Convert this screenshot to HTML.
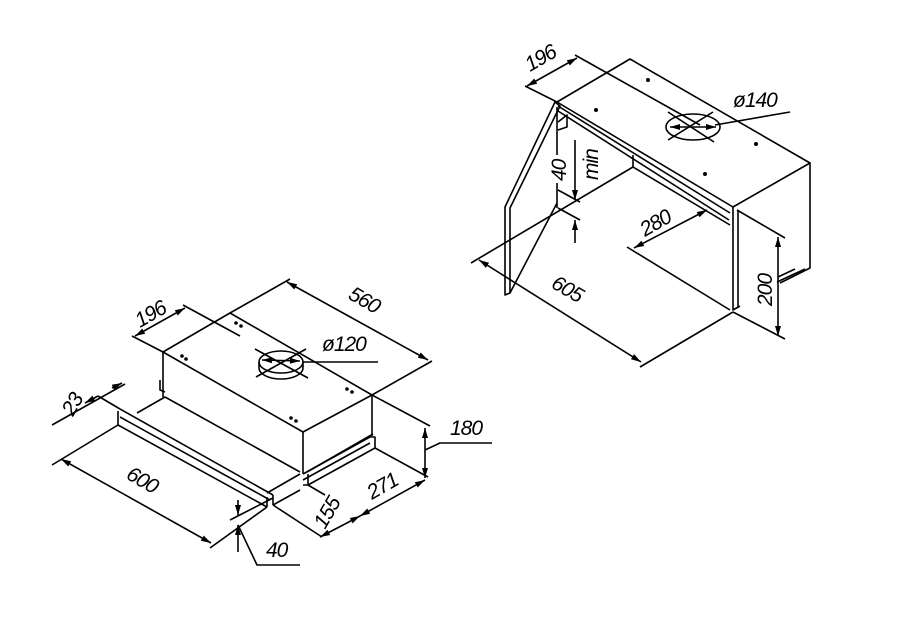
<!DOCTYPE html>
<html><head><meta charset="utf-8"><style>
html,body{margin:0;padding:0;background:#fff;}
svg{display:block}
text{font-family:"Liberation Sans",sans-serif;font-style:italic;font-size:21px;fill:#000;letter-spacing:-1px}
</style></head><body>
<svg width="900" height="636" viewBox="0 0 900 636" xmlns="http://www.w3.org/2000/svg">
<defs>
<marker id="a" viewBox="0 0 10 6" refX="10" refY="3" markerWidth="11" markerHeight="6" orient="auto-start-reverse" markerUnits="userSpaceOnUse"><path d="M0,0 L10,3 L0,6 z" fill="#000"/></marker>
</defs>
<g stroke="#000" stroke-width="1.6" fill="none" stroke-linejoin="round">
<!-- LEFT HOOD box -->
<path d="M163,352 L230,313 L372,395 L303,432 Z"/>
<path d="M163,352 L163,397"/>
<path d="M303,432 L303,474"/>
<path d="M372,395 L372,436"/>
<path d="M307,472 L373,434"/>
<path d="M160,380 L160,390 L165,392"/>
<!-- drawer -->
<path d="M120,409 L273,495"/>
<path d="M120,417 L270,500"/>
<path d="M118,425 L267,507"/>
<path d="M118,411 L118,425"/>
<path d="M267,497 L267,507"/>
<path d="M273,495 L273,505"/>
<path d="M267,493 L300,474"/>
<path d="M273,505 L300,490"/>
<path d="M137,413 L165,397 L300,472"/>
<!-- rail right -->
<path d="M303,474 L370,437 L375,437 L375,448 L308,485 L303,485"/>
<path d="M308,485 L308,474"/>
<path d="M303,480 L370,443"/>
<!-- holes -->
<g fill="#000" stroke="none">
<circle cx="236" cy="323" r="1.8"/><circle cx="241" cy="326" r="1.8"/>
<circle cx="182" cy="356" r="1.8"/><circle cx="186" cy="359" r="1.8"/>
<circle cx="347" cy="389" r="1.8"/><circle cx="352" cy="392" r="1.8"/>
<circle cx="291" cy="418" r="1.8"/><circle cx="296" cy="421" r="1.8"/>
</g>
<!-- circle 120 -->
<ellipse cx="281" cy="362" rx="22" ry="11"/>
<path d="M259,362 L259,368 A22,11 0 0 0 303,368 L303,362"/>
<path d="M256,377 L306,349"/>
<path d="M255,349 L308,378"/>
<path d="M262,360 L300,361" marker-start="url(#a)" marker-end="url(#a)"/>
<path d="M303,362 L378,362"/>
<!-- dim 196 -->
<path d="M135,336 L185,308" marker-start="url(#a)" marker-end="url(#a)"/>
<path d="M132,336 L163,352"/>
<path d="M183,305 L240,336"/>
<!-- dim 560 -->
<path d="M287,282 L428,360" marker-start="url(#a)" marker-end="url(#a)"/>
<path d="M230,313 L290,279"/>
<path d="M372,395 L432,361"/>
<!-- dim 23 -->
<path d="M52,425 L125,384"/>
<path d="M85,403 L98,396" marker-start="url(#a)"/>
<path d="M112,388 L122,383" marker-end="url(#a)"/>
<path d="M98,396 L120,409"/>
<!-- dim 600 -->
<path d="M61,459 L211,543" marker-start="url(#a)" marker-end="url(#a)"/>
<path d="M52,465 L118,425"/>
<path d="M210,548 L267,507"/>
<!-- dim 40 -->
<path d="M238,500 L238,515" marker-end="url(#a)"/>
<path d="M238,525 L238,552" marker-start="url(#a)"/>
<path d="M230,520 L273,498"/>
<path d="M238,525 L257,565 L300,565"/>
<!-- dim 155 -->
<path d="M273,505 L322,537"/>
<path d="M308,485 L325,495"/>
<path d="M320,537 L345,524" marker-start="url(#a)"/>
<path d="M345,524 L360,516" marker-end="url(#a)"/>
<!-- dim 271 -->
<path d="M360,516 L425,480" marker-start="url(#a)" marker-end="url(#a)"/>
<path d="M375,448 L428,477"/>
<!-- dim 180 -->
<path d="M372,395 L430,426"/>
<path d="M425,428 L425,478" marker-start="url(#a)" marker-end="url(#a)"/>
<path d="M425,450 L440,443 L492,443"/>

<!-- RIGHT CABINET -->
<path d="M557,102 L630,59 L810,163 L733,207 Z"/>
<path d="M810,163 L810,268 L780,283"/>
<path d="M733,207 L733,310 L740,306"/>
<path d="M738,210 L738,308"/>
<path d="M558,106 L730,213"/>
<path d="M558,111 L729,220"/>
<path d="M633,155 L633,167"/>
<path d="M471,263 L633,167"/>
<path d="M633,167 L730,225"/>
<path d="M777,282 L805,269"/>
<path d="M778,277 L795,269"/>
<!-- door -->
<path d="M555,102 L560,106 L510,208 L510,293 L505,295 L505,207 Z"/>
<path d="M557,203 L510,293"/>
<path d="M557,107 L557,155"/>
<path d="M557,183 L557,208"/>
<path d="M558,190 L580,202"/>
<path d="M558,208 L580,220"/>
<path d="M558,122 L567,115 L567,127 L558,130"/>
<!-- holes -->
<g fill="#000" stroke="none">
<circle cx="648" cy="80" r="2"/><circle cx="596" cy="110" r="2"/>
<circle cx="756" cy="144" r="2"/><circle cx="705" cy="174" r="2"/>
</g>
<!-- circle 140 -->
<ellipse cx="693" cy="127" rx="27" ry="13"/>
<path d="M668,140 L713,112"/>
<path d="M668,112 L714,142"/>
<path d="M670,127 L716,127" marker-start="url(#a)" marker-end="url(#a)"/>
<path d="M715,125 L790,112"/>
<!-- dim 196 -->
<path d="M527,86 L577,58" marker-start="url(#a)" marker-end="url(#a)"/>
<path d="M525,86 L557,102"/>
<path d="M575,55 L700,125"/>
<!-- dim 40 min -->
<path d="M575,140 L575,200" marker-end="url(#a)"/>
<path d="M575,220 L575,243" marker-start="url(#a)"/>
<!-- dim 280 -->
<path d="M634,248 L707,210" marker-start="url(#a)" marker-end="url(#a)"/>
<path d="M627,247 L730,310"/>
<!-- dim 605 -->
<path d="M479,260 L641,362" marker-start="url(#a)" marker-end="url(#a)"/>
<path d="M640,367 L733,312"/>
<!-- dim 200 -->
<path d="M737,210 L785,238"/>
<path d="M733,312 L785,339"/>
<path d="M778,237 L778,336" marker-start="url(#a)" marker-end="url(#a)"/>
</g>
<g>
<text transform="translate(140,328) rotate(-30)">196</text>
<text transform="translate(347,298) rotate(30)">560</text>
<text x="322" y="351">ø120</text>
<text transform="translate(73,417) rotate(-60)">23</text>
<text x="450" y="435">180</text>
<text transform="translate(125,478) rotate(30)">600</text>
<text transform="translate(372,500) rotate(-30)">271</text>
<text transform="translate(325,530) rotate(-60)">155</text>
<text x="266" y="557">40</text>
<text transform="translate(530,72) rotate(-30)">196</text>
<text x="733" y="107">ø140</text>
<text transform="translate(566,181) rotate(-90)">40</text>
<text transform="translate(598,180) rotate(-90)" font-size="17">min</text>
<text transform="translate(645,237) rotate(-30)">280</text>
<text transform="translate(550,287) rotate(30)">605</text>
<text transform="translate(772,306) rotate(-90)">200</text>
</g>
</svg>
</body></html>
